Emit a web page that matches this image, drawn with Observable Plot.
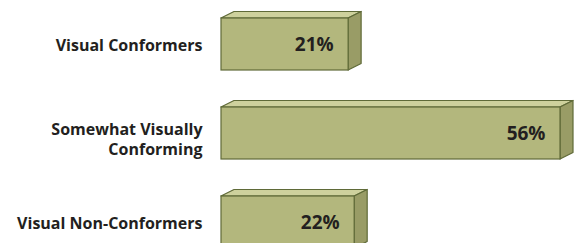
<!DOCTYPE html>
<html><head><meta charset="utf-8">
<script src="https://cdn.jsdelivr.net/npm/d3@7"></script>
<script src="https://cdn.jsdelivr.net/npm/@observablehq/plot@0.6"></script>
<style>body{margin:0;background:#fff}svg{overflow:hidden}</style>
</head><body><div id="chart"></div>
<script>
const categories = ["Visual Conformers", "Somewhat Visually\nConforming", "Visual Non-Conformers"];
const values = [21, 56, 22];
const valueLabels = ["21%", "56%", "22%"];

const data = categories.map((c, i) => ({cat: c, value: values[i], label: valueLabels[i]}));

const DX = 13, DY = 6.5;
const outline = "#5f6a38";

function bw(scales) {
  const s = scales.y;
  if (s && typeof s.bandwidth === "function") return s.bandwidth();
  if (scales.scales && scales.scales.y) return scales.scales.y.bandwidth;
  return 52;
}

function depthFaces(index, scales, vals) {
  const g = d3.create("svg:g");
  const h = bw(scales);
  for (const i of index) {
    const x1 = vals.x1[i], x2 = vals.x2[i], y1 = vals.y[i], y2 = y1 + h;
    g.append("polygon")
      .attr("points", [[x1, y1], [x2, y1], [x2 + DX, y1 - DY], [x1 + DX, y1 - DY]].join(" "))
      .attr("fill", "#ced19d").attr("stroke", outline).attr("stroke-width", 1.2).attr("stroke-linejoin", "round");
    g.append("polygon")
      .attr("points", [[x2, y1], [x2 + DX, y1 - DY], [x2 + DX, y2 - DY], [x2, y2]].join(" "))
      .attr("fill", "#999c66").attr("stroke", outline).attr("stroke-width", 1.2).attr("stroke-linejoin", "round");
  }
  return g.node();
}

const font = "'Open Sans', sans-serif";
const plot = Plot.plot({
  width: 574,
  height: 243,
  marginLeft: 221,
  marginRight: 14,
  marginTop: 0,
  marginBottom: 0,
  style: {fontFamily: font, background: "#fff"},
  x: {domain: [0, 56], range: [221, 560], axis: null},
  y: {domain: categories, range: [17.5, 247.5], paddingInner: 0.416, paddingOuter: 0, axis: null},
  marks: [
    Plot.barX(data, {x: "value", y: "cat", fill: "none", render: depthFaces}),
    Plot.barX(data, {x: "value", y: "cat", fill: "#b3b77d", stroke: outline, strokeWidth: 1.2}),
    Plot.text(data, {x: "value", y: "cat", text: "label", textAnchor: "end", dx: -15, dy: 0,
      fontSize: 19, fontWeight: 700, fill: "#231f20"}),
    Plot.text(data.filter(d => !d.cat.includes("\n")), {y: "cat", text: "cat", frameAnchor: "left",
      textAnchor: "end", dx: -19, dy: 1, fontSize: 16, fontWeight: 700, fill: "#231f20"}),
    Plot.text(data.filter(d => d.cat.includes("\n")), {y: "cat", text: "cat", frameAnchor: "left",
      textAnchor: "end", dx: -19, dy: 5, lineHeight: 1.25, fontSize: 16, fontWeight: 700, fill: "#231f20"})
  ]
});
document.getElementById("chart").append(plot);
</script>
</body></html>
